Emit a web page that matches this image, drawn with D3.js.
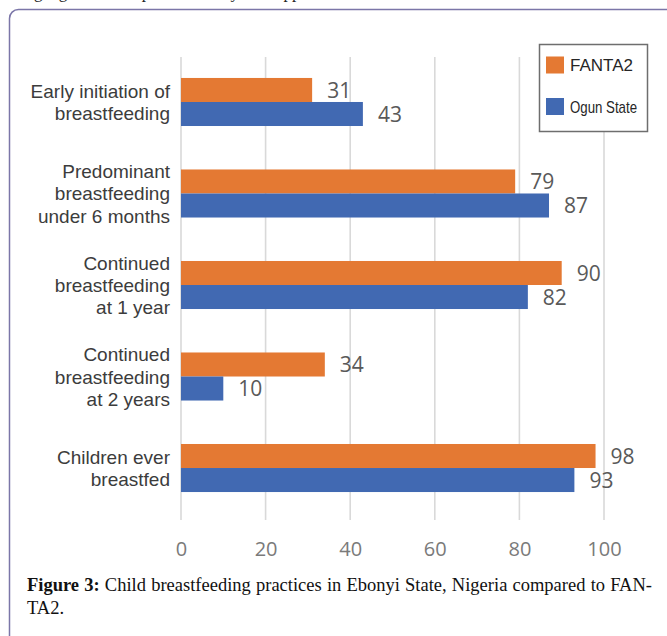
<!DOCTYPE html>
<html>
<head>
<meta charset="utf-8">
<script src="https://cdn.jsdelivr.net/npm/d3@7"></script>
<style>
  html, body { margin: 0; padding: 0; background: #fff; }
  svg { display: block; }
</style>
</head>
<body>
<script>
// ---- data ----
const categories = [
  "Early initiation of breastfeeding",
  "Predominant breastfeeding under 6 months",
  "Continued breastfeeding at 1 year",
  "Continued breastfeeding at 2 years",
  "Children ever breastfed"
];
const categoryLines = [
  ["Early initiation of", "breastfeeding"],
  ["Predominant", "breastfeeding", "under 6 months"],
  ["Continued", "breastfeeding", "at 1 year"],
  ["Continued", "breastfeeding", "at 2 years"],
  ["Children ever", "breastfed"]
];
const seriesNames = ["FANTA2", "Ogun State"];
const fanta2 = [31, 79, 90, 34, 98];
const ogun = [43, 87, 82, 10, 93];
const tickValues = [0, 20, 40, 60, 80, 100];
const captionBold = "Figure 3:";
const captionLine1 = " Child breastfeeding practices in Ebonyi State, Nigeria compared to FAN-";
const captionLine2 = "TA2.";
const topText = "Using a good habits practices is by the supportive";

// ---- setup ----
const W = 667, H = 636;
const colors = { "FANTA2": "#e47933", "Ogun State": "#4169b2" };
const svg = d3.select("body").append("svg").attr("width", W).attr("height", H);
svg.append("rect").attr("width", W).attr("height", H).attr("fill", "#fff");

// partial text line above the frame (only descenders visible)
svg.append("text").attr("x", 2).attr("y", -2)
  .attr("font-family", "Liberation Serif, Times New Roman, serif")
  .attr("font-size", 17).attr("fill", "#222").text(topText);

// frame
svg.append("rect").attr("x", 9.5).attr("y", 9.5).attr("width", 720).attr("height", 700)
  .attr("rx", 9).attr("fill", "none").attr("stroke", "#7b76a8").attr("stroke-width", 1.5);

const x = d3.scaleLinear().domain([0, 100]).range([181, 604]);
const y = d3.scaleBand().domain(categories).range([34.5, 535.5]).paddingInner(0.475).paddingOuter(0.475);
const ySub = d3.scaleBand().domain(seriesNames).range([0, y.bandwidth()]);

// gridlines
const gridTop = 57, gridBottom = 520;
svg.append("g").selectAll("line").data(tickValues).join("line")
  .attr("x1", d => x(d)).attr("x2", d => x(d))
  .attr("y1", gridTop).attr("y2", gridBottom)
  .attr("stroke", "#d9d9d9").attr("stroke-width", 1.6);

// x axis labels
const axis = svg.append("g").attr("transform", `translate(0,${541})`)
  .call(d3.axisBottom(x).tickValues(tickValues).tickSize(0).tickPadding(0));
axis.select(".domain").remove();
axis.selectAll("text")
  .attr("font-family", "Open Sans, sans-serif").attr("font-size", 20)
  .attr("fill", "#7a7a7a").attr("dy", "0.75em");

// bars
const rows = categories.map((c, i) => ({ cat: c, lines: categoryLines[i], vals: [
  { s: "FANTA2", v: fanta2[i] }, { s: "Ogun State", v: ogun[i] }] }));

const g = svg.append("g").selectAll("g").data(rows).join("g")
  .attr("transform", d => `translate(0,${y(d.cat)})`);

g.selectAll("rect").data(d => d.vals).join("rect")
  .attr("x", x(0)).attr("y", d => ySub(d.s))
  .attr("width", d => x(d.v) - x(0)).attr("height", ySub.bandwidth())
  .attr("fill", d => colors[d.s]);

g.selectAll("text.val").data(d => d.vals).join("text").attr("class", "val")
  .attr("x", d => x(d.v) + 15).attr("y", d => ySub(d.s) + ySub.bandwidth() / 2)
  .attr("dy", "0.36em")
  .attr("font-family", "Open Sans, sans-serif").attr("font-size", 21)
  .attr("fill", "#595959").text(d => d.v);

// category labels
const lh = 22.5;
g.append("text")
  .attr("text-anchor", "end")
  .attr("font-family", "Liberation Sans, Arial, sans-serif").attr("font-size", 19)
  .attr("fill", "#3c3c3c")
  .each(function (d) {
    const t = d3.select(this);
    const n = d.lines.length;
    const c = y.bandwidth() / 2;
    d.lines.forEach((ln, k) => {
      t.append("tspan").attr("x", 170)
        .attr("y", c + (k - (n - 1) / 2) * lh + 7).text(ln);
    });
  });

// legend
const lg = svg.append("g");
lg.append("rect").attr("x", 539.5).attr("y", 44.5).attr("width", 108).attr("height", 87)
  .attr("fill", "#fff").attr("stroke", "#6e6e6e").attr("stroke-width", 1.5);
const legY = d3.scalePoint().domain(seriesNames).range([65, 106.5]);
lg.selectAll("rect.sw").data(seriesNames).join("rect").attr("class", "sw")
  .attr("x", 546).attr("y", d => legY(d) - 8.5).attr("width", 18).attr("height", 17)
  .attr("fill", d => colors[d]);
lg.selectAll("text").data(seriesNames).join("text")
  .attr("x", 570).attr("y", d => legY(d) + 6)
  .attr("font-family", d => d === "FANTA2" ? "Liberation Sans, Arial, sans-serif" : "Liberation Sans Narrow, Arial Narrow, sans-serif")
  .attr("font-size", 17).attr("fill", "#262626")
  .text(d => d)
  .each(function (d) {
    if (d === "Ogun State") d3.select(this).attr("textLength", 67).attr("lengthAdjust", "spacingAndGlyphs");
  });

// caption
const cap = svg.append("g").attr("font-family", "Liberation Serif, Times New Roman, serif")
  .attr("font-size", 18.5).attr("fill", "#111");
const l1 = cap.append("text").attr("x", 27).attr("y", 591);
l1.append("tspan").attr("font-weight", "bold").text(captionBold);
l1.append("tspan").text(captionLine1);
const len = l1.node().getComputedTextLength();
const spaces = (captionBold + captionLine1).split(" ").length - 1;
l1.attr("word-spacing", Math.max(0, (625 - len) / spaces));
cap.append("text").attr("x", 27).attr("y", 614).text(captionLine2);
</script>
</body>
</html>
